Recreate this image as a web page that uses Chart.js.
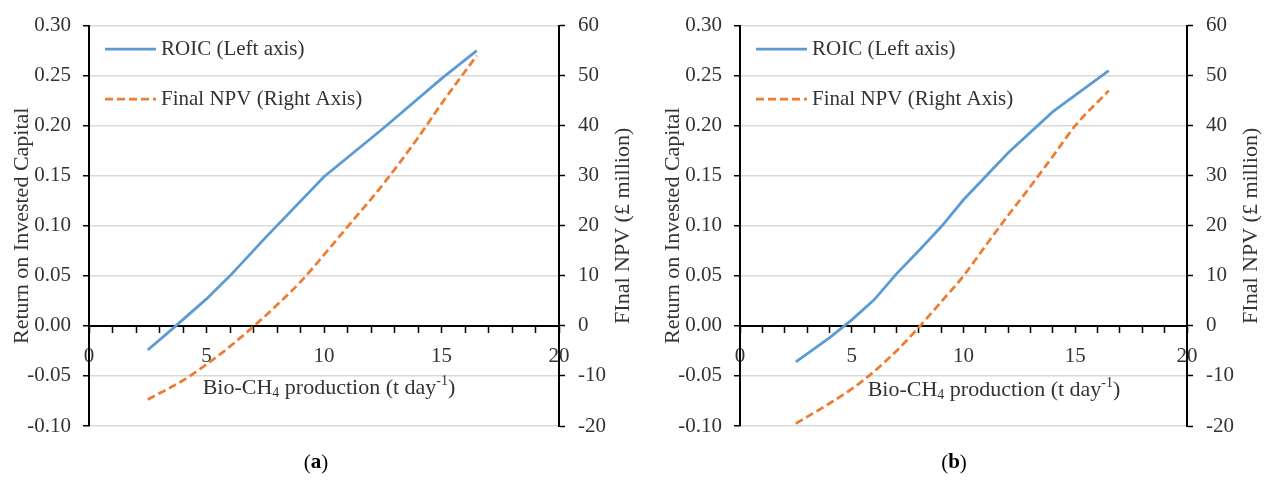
<!DOCTYPE html>
<html>
<head>
<meta charset="utf-8">
<script src="https://cdn.jsdelivr.net/npm/chart.js@4.4.1/dist/chart.umd.min.js"></script>
<style>
  html, body { margin: 0; padding: 0; background: #fff; }
  #wrap { position: relative; width: 1267px; height: 480px; overflow: hidden; }
  canvas { position: absolute; top: 0; }
</style>
</head>
<body>
<div id="wrap">
  <canvas id="chartA" width="640" height="480" style="left:0;width:640px;height:480px"></canvas>
  <canvas id="chartB" width="627" height="480" style="left:640px;width:627px;height:480px"></canvas>
</div>
<script>
/* ===== data ===== */
// panel (a)
const roicA_x = [2.5, 3.5, 5, 6, 7.5, 10, 12.5, 15, 16.5];
const roicA_y = [-0.024, -0.004, 0.027, 0.050, 0.088, 0.149, 0.197, 0.247, 0.275];
const npvA_x = [2.5, 4, 5, 6, 7.5, 9, 10, 11, 12.5, 14, 15, 16.5];
const npvA_y = [-14.7, -10.9, -7.7, -4.1, 2.0, 8.8, 14.2, 19.8, 28.2, 37.6, 44.4, 54.0];
// panel (b)
const roicB_x = [2.5, 4, 5, 6, 7, 8, 9, 10, 12, 14, 16.5];
const roicB_y = [-0.036, -0.012, 0.006, 0.026, 0.052, 0.075, 0.099, 0.126, 0.173, 0.214, 0.255];
const npvB_x = [2.5, 4, 5, 6, 7, 8, 9, 10, 11, 12, 13, 14, 15, 16.5];
const npvB_y = [-19.5, -15.5, -12.6, -9.1, -5.0, -0.3, 4.8, 10.0, 16.1, 22.1, 27.9, 33.9, 40.0, 47.0];

const legendLabels = ["ROIC (Left axis)", "Final NPV (Right Axis)"];
const leftTitle = "Return on Invested Capital";
const rightTitle = "FInal NPV (\u00a3 million)";

const BLUE = "#5b9bd5";
const ORANGE = "#ed7d31";
const TXT = "#333333";
const FONT = "'Liberation Serif', 'Times New Roman', serif";

Chart.defaults.font.family = FONT;
Chart.defaults.font.size = 21;
Chart.defaults.color = TXT;

function pts(xs, ys) {
  return xs.map((x, i) => ({ x: x, y: ys[i] }));
}

/* ===== titles, legend, panel label ===== */
const decor = {
  id: "decor",
  afterDraw(chart, args, o) {
    const ctx = chart.ctx;
    const a = chart.chartArea;
    const mid = (a.top + a.bottom) / 2;
    ctx.save();
    ctx.fillStyle = TXT;
    ctx.font = "22px " + FONT;
    ctx.textBaseline = "middle";

    // y titles (both read bottom to top)
    ctx.save();
    ctx.translate(a.left - 67, mid);
    ctx.rotate(-Math.PI / 2);
    ctx.textAlign = "center";
    ctx.fillText(leftTitle, 0, 0);
    ctx.restore();

    ctx.save();
    ctx.translate(a.right + 64, mid);
    ctx.rotate(-Math.PI / 2);
    ctx.textAlign = "center";
    ctx.fillText(rightTitle, 0, 0);
    ctx.restore();

    // x title with sub/superscript
    const parts = [
      ["Bio-CH", 22, 0], ["4", 14, 5], [" production (t day", 22, 0], ["-1", 14, -7], [")", 22, 0]
    ];
    let w = 0;
    parts.forEach(p => { ctx.font = p[1] + "px " + FONT; w += ctx.measureText(p[0]).width; });
    let x = o.xTitleX - w / 2;
    ctx.textAlign = "left";
    parts.forEach(p => {
      ctx.font = p[1] + "px " + FONT;
      ctx.fillText(p[0], x, o.xTitleY + p[2]);
      x += ctx.measureText(p[0]).width;
    });

    // legend
    const lx = a.left + 16;
    const rows = [[BLUE, [], 49], [ORANGE, [8, 4], 99]];
    rows.forEach((r, i) => {
      ctx.strokeStyle = r[0];
      ctx.lineWidth = 2.75;
      ctx.setLineDash(r[1]);
      ctx.beginPath();
      ctx.moveTo(lx, r[2]);
      ctx.lineTo(lx + 51, r[2]);
      ctx.stroke();
      ctx.setLineDash([]);
      ctx.font = "21px " + FONT;
      ctx.fillText(legendLabels[i], lx + 56, r[2]);
    });

    // panel label "(a)" with bold letter
    const seg = [["(", "21px " + FONT], [o.panel, "bold 21px " + FONT], [")", "21px " + FONT]];
    let pw = 0;
    seg.forEach(s => { ctx.font = s[1]; pw += ctx.measureText(s[0]).width; });
    let px = o.panelX - pw / 2;
    seg.forEach(s => {
      ctx.font = s[1];
      ctx.fillStyle = "#000";
      ctx.fillText(s[0], px, 463);
      px += ctx.measureText(s[0]).width;
    });
    ctx.restore();
  }
};

function makePanel(id, roicX, roicY, npvX, npvY, o) {
  return new Chart(document.getElementById(id), {
    type: "line",
    data: {
      datasets: [
        {
          label: legendLabels[0], data: pts(roicX, roicY), yAxisID: "y",
          borderColor: BLUE, borderWidth: 2.75, pointRadius: 0, tension: 0, fill: false
        },
        {
          label: legendLabels[1], data: pts(npvX, npvY), yAxisID: "y1",
          borderColor: ORANGE, borderWidth: 2.75, borderDash: [8, 4], pointRadius: 0,
          cubicInterpolationMode: "monotone", fill: false
        }
      ]
    },
    options: {
      responsive: false,
      animation: false,
      layout: { padding: { top: 19, bottom: 54, left: 0, right: 0 } },
      plugins: { legend: { display: false }, tooltip: { enabled: false }, decor: o },
      scales: {
        x: {
          type: "linear", min: 0, max: 20,
          position: { y: 0 },
          grid: { drawOnChartArea: false, tickLength: 6, tickColor: "#000", tickWidth: 1.5 },
          border: { color: "#000", width: 2 },
          ticks: {
            stepSize: 1, autoSkip: false, maxRotation: 0, padding: 12, color: TXT,
            callback: v => (v % 5 === 0 ? String(v) : "")
          }
        },
        y: {
          position: "left", min: -0.1, max: 0.3,
          afterFit: s => { s.width = o.leftW; },
          grid: {
            color: c => (c.tick && Math.abs(c.tick.value) < 1e-9 ? "rgba(0,0,0,0)" : "#d9d9d9"),
            lineWidth: 1.5, tickColor: "#000", tickLength: 6, tickWidth: 1.5
          },
          border: { color: "#000", width: 2 },
          ticks: { stepSize: 0.05, padding: 12, color: TXT, callback: v => v.toFixed(2) }
        },
        y1: {
          position: "right", min: -20, max: 60,
          afterFit: s => { s.width = o.rightW; },
          grid: { drawOnChartArea: false, tickColor: "#000", tickLength: 6, tickWidth: 1.5 },
          border: { color: "#000", width: 2 },
          ticks: { stepSize: 10, padding: 13, color: TXT }
        }
      }
    },
    plugins: [decor]
  });
}

makePanel("chartA", roicA_x, roicA_y, npvA_x, npvA_y,
  { leftW: 89, rightW: 81, xTitleX: 329, xTitleY: 388, panel: "a", panelX: 316 });
makePanel("chartB", roicB_x, roicB_y, npvB_x, npvB_y,
  { leftW: 100, rightW: 80, xTitleX: 354, xTitleY: 390, panel: "b", panelX: 314 });
</script>
</body>
</html>
